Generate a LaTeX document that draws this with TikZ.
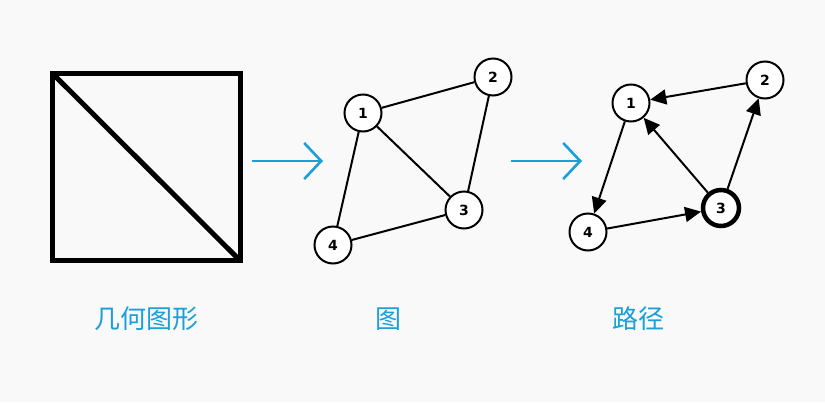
\documentclass[tikz,border=0pt]{standalone}
\usepackage{fontspec}
\setmainfont{DejaVu Sans}
\newfontfamily\cjk{Noto Sans CJK SC}
\usetikzlibrary{arrows.meta}
\definecolor{bg}{HTML}{F9F9F9}
\definecolor{lblue}{HTML}{1A9FDB}
\begin{document}
\begin{tikzpicture}[x=1pt,y=-1pt,
  vtx/.style={circle,draw=black,fill=white,line width=2pt,minimum size=37pt,inner sep=0pt,font=\bfseries\fontsize{14}{16}\selectfont},
  edge/.style={line width=2pt},
  dedge/.style={line width=2pt,-{Triangle[length=16pt,width=15pt]}},
  bigarrow/.style={draw=lblue,line width=2.6pt,-{Straight Barb[length=17pt,width=36pt,line width=2.6pt]}},
  captext/.style={text=lblue,font=\cjk\fontsize{26}{30}\selectfont}]
\fill[bg] (0,0) rectangle (825,402);
\useasboundingbox (0,0) rectangle (825,402);
% square
\coordinate (sqa) at (52.5,73.5);
\coordinate (sqb) at (240,73.5);
\coordinate (sqc) at (240,260.5);
\coordinate (sqd) at (52.5,260.5);
\draw[line width=5pt,line join=miter] (sqa) -- (sqb) -- (sqc) -- (sqd) -- cycle;
\draw[line width=5pt] (sqa) -- (sqc);
% blue arrows
\coordinate (a1s) at (252,161);
\coordinate (a1e) at (323,161);
\coordinate (a2s) at (511,161);
\coordinate (a2e) at (582,161);
\draw[bigarrow] (a1s) -- (a1e);
\draw[bigarrow] (a2s) -- (a2e);
% graph
\node[vtx] (g1) at (363,113) {1};
\node[vtx] (g2) at (493,77) {2};
\node[vtx] (g3) at (464,210) {3};
\node[vtx] (g4) at (333,245) {4};
\draw[edge] (g1) -- (g2);
\draw[edge] (g2) -- (g3);
\draw[edge] (g1) -- (g3);
\draw[edge] (g1) -- (g4);
\draw[edge] (g4) -- (g3);
% path
\node[vtx] (p1) at (631,103) {1};
\node[vtx] (p2) at (765,80) {2};
\node[vtx,line width=4.5pt,minimum size=36pt] (p3) at (721,208) {3};
\node[vtx] (p4) at (588,232) {4};
\draw[dedge] (p2) -- (p1);
\draw[dedge] (p1) -- (p4);
\draw[dedge] (p4) -- (p3);
\draw[dedge] (p3) -- (p1);
\draw[dedge] (p3) -- (p2);
% captions
\node[captext] (c1) at (146,319) {几何图形};
\node[captext] (c2) at (388,319) {图};
\node[captext] (c3) at (638,319) {路径};
\end{tikzpicture}
\end{document}
